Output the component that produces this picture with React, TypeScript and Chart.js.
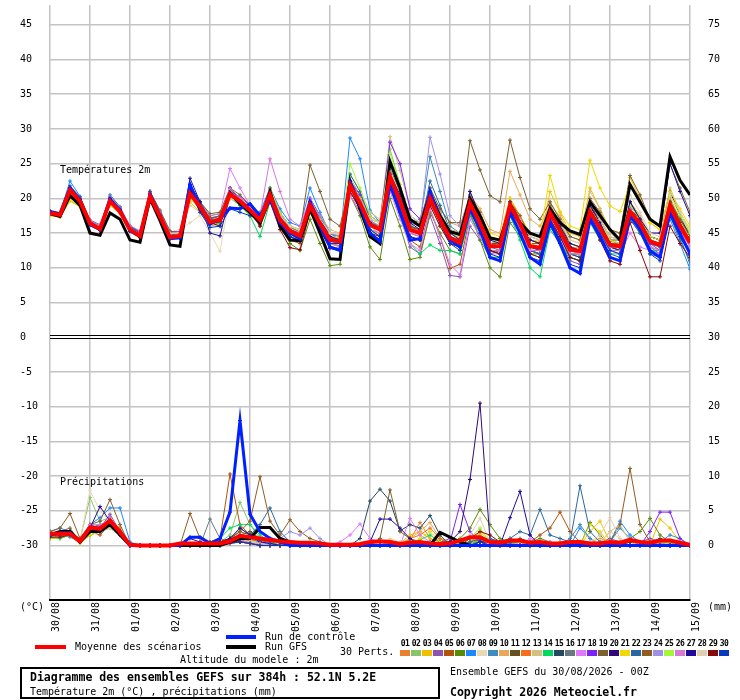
import React, { useEffect, useRef } from 'react';
import { Chart, registerables } from 'chart.js';
Chart.register(...registerables);

const DATES = ['30/08','31/08','01/09','02/09','03/09','04/09','05/09','06/09','07/09','08/09','09/09','10/09','11/09','12/09','13/09','14/09','15/09'];
const TEMP_TICKS = [45,40,35,30,25,20,15,10,5,0,-5,-10,-15,-20,-25,-30];
const PRECIP_TICKS = [75,70,65,60,55,50,45,40,35,30,25,20,15,10,5,0];

const MEAN_T = [17.9,17.6,21.2,19.6,16.4,15.6,19.6,18.1,15.5,14.6, 20.3,17.4,14.4,14.6,20.7,18.8,16.6,16.9,20.6,19.6, 18.3,16.9,20.5,16.9,15.3,14.6,19.0,16.4,14.0,13.8, 21.9,19.3,16.2,15.5,23.1,19.6,15.5,15.0,20.0,16.9, 14.3,13.6,19.3,16.4,13.1,13.1,19.0,16.4,13.1,12.9, 17.9,15.3,12.6,12.4,18.1,15.7,13.3,13.1,18.1,16.4, 13.8,13.3,19.0,16.0,13.6];
const GFS_T = [17.8,17.4,20.4,19.0,15.0,14.7,17.9,17.0,14.0,13.7, 20.0,16.8,13.3,13.1,21.5,18.5,16.5,16.8,20.8,19.2, 18.0,16.5,21.0,16.0,14.0,13.9,18.5,15.0,11.3,11.2, 22.5,18.5,14.5,13.5,25.3,21.5,17.0,16.0,20.5,17.5, 15.2,14.8,20.0,17.5,14.3,14.0,18.5,16.5,15.0,14.5, 18.5,16.5,15.3,14.8,19.5,17.5,15.5,14.0,22.0,19.5, 17.0,16.0,26.0,22.6,20.5];
const CTRL_T = [18.1,17.8,21.5,19.8,16.2,15.5,19.9,18.3,15.3,14.5, 20.6,17.5,14.2,14.3,22.0,18.6,16.3,17.0,18.6,18.5, 19.2,17.5,20.0,16.5,15.0,14.2,19.5,16.0,13.0,12.5, 22.3,19.0,15.0,13.8,22.0,18.0,14.0,14.2,21.0,17.0, 14.0,13.0,18.5,15.5,11.5,11.0,18.0,15.0,11.5,10.5, 16.5,13.5,10.0,9.2,17.0,14.5,11.5,11.0,17.5,15.5, 12.5,11.5,18.0,15.0,12.0];

const P01_T = [17.9,17.5,21.4,19.8,16.6,15.8,19.8,18.3,15.6,14.8, 20.5,17.7,14.6,14.9,21.0,19.2,17.0,17.5,21.2,20.0, 18.6,17.3,21.0,17.5,15.8,15.2,19.6,17.2,14.8,14.5, 22.5,20.0,16.8,16.0,24.0,20.5,16.0,15.5,21.0,17.8, 15.0,14.2,20.3,17.0,13.5,13.8,20.0,17.5,14.0,13.5, 18.8,16.0,13.0,12.8,19.0,16.5,13.8,13.5,19.0,17.0, 14.0,13.5,19.5,16.5,14.0];
const P02_T = [18.0,17.8,21.0,19.5,16.5,15.9,19.3,18.6,15.8,14.9, 20.0,17.2,14.6,14.9,20.2,18.5,17.0,17.6,20.0,19.0, 17.5,16.6,20.8,17.8,15.5,14.3,18.5,16.5,13.5,13.2, 23.0,20.5,16.0,14.8,27.1,22.0,16.5,14.8,19.0,16.0, 13.5,13.0,18.0,15.5,12.5,12.0,17.5,15.0,12.0,11.5, 17.0,14.5,12.0,11.8,17.5,15.0,13.0,12.8,18.5,16.5, 14.0,13.5,20.0,17.0,14.5];
const P03_T = [17.6,17.3,19.6,18.8,16.8,16.0,19.0,18.0,15.2,14.2, 20.0,17.4,14.8,15.2,19.5,18.0,16.0,16.3,20.0,19.5, 18.6,17.2,19.5,16.5,15.0,14.5,19.0,16.8,14.5,14.3, 21.0,18.5,16.0,15.5,22.5,19.0,15.5,15.5,20.5,17.5, 15.5,15.0,21.0,17.5,14.5,14.0,20.0,17.0,14.0,13.8, 21.0,18.0,15.0,14.5,21.5,18.5,15.5,15.0,23.0,20.0, 16.5,15.5,21.0,18.0,15.5];
const P04_T = [18.0,17.7,21.3,19.9,16.9,16.2,20.0,18.5,16.0,15.2, 21.0,18.0,15.0,14.8,20.5,18.5,16.5,16.8,21.5,20.0, 18.0,16.5,21.5,17.0,14.5,13.8,19.5,16.0,13.0,12.5, 20.5,18.0,14.5,13.5,21.5,17.5,13.0,12.0,17.5,13.5, 8.9,8.7,16.0,14.0,11.5,11.5,18.5,15.5,12.5,12.0, 17.0,14.0,11.0,10.5,16.5,14.5,12.5,12.5,17.5,15.5, 13.0,12.0,18.0,15.0,12.5];
const P05_T = [17.8,17.6,21.0,19.4,16.2,15.4,19.5,18.0,15.4,14.5, 20.2,17.2,14.3,14.4,20.5,18.9,16.8,17.2,20.8,19.8, 18.5,16.0,19.8,16.0,14.0,13.5,18.0,15.5,13.0,12.8, 21.5,19.0,15.5,14.5,22.5,18.5,14.0,13.0,18.5,14.5, 9.9,10.5,17.5,15.0,12.0,12.5,19.5,17.0,13.5,13.5, 18.0,16.0,13.0,12.5,18.5,16.0,13.0,12.5,17.0,15.0, 12.5,12.0,18.5,15.5,13.0];
const P06_T = [17.9,17.6,21.0,19.5,16.3,15.5,19.4,18.0,15.5,14.6, 20.0,17.5,14.8,15.0,20.5,19.5,17.5,17.8,20.5,19.0, 17.8,16.2,20.0,16.0,13.5,12.5,17.0,13.5,10.3,10.5, 20.5,17.5,13.0,11.2,20.0,16.0,11.2,11.5,18.0,15.0, 12.5,12.0,18.0,14.0,10.0,8.7,16.5,14.5,12.0,12.0, 17.0,14.5,12.0,12.0,17.5,15.0,12.5,12.5,19.0,17.0, 14.5,14.0,20.0,16.5,14.0];
const P07_T = [18.2,17.9,22.5,20.3,16.8,16.0,20.0,18.6,15.8,14.8, 20.8,17.8,14.5,14.3,21.5,19.0,17.0,17.5,20.5,19.5, 18.5,18.0,21.5,18.5,16.5,16.0,21.5,18.0,15.0,14.0, 28.7,25.7,18.3,16.5,23.5,20.0,15.0,14.5,20.5,17.0, 13.5,13.0,19.5,16.0,12.5,12.0,19.0,16.0,12.5,12.0, 17.5,15.0,12.0,11.5,18.0,15.0,12.5,12.0,17.5,15.5, 12.5,12.0,17.0,13.5,9.8];
const P08_T = [17.5,17.4,20.5,19.0,16.5,15.8,19.0,17.8,15.8,15.0, 19.5,17.0,15.2,15.5,16.5,17.5,15.0,12.4,20.5,19.5, 18.0,17.0,20.0,17.0,15.5,15.0,19.0,17.0,15.0,14.5, 21.0,19.5,17.0,16.5,24.0,21.0,17.0,16.0,20.0,17.5, 15.0,14.5,20.5,18.0,14.5,14.0,19.5,17.0,14.0,13.5, 18.0,16.0,13.5,13.0,18.5,16.0,13.5,13.5,19.0,17.0, 14.0,13.5,18.5,15.5,13.0];
const P09_T = [17.9,17.7,21.5,19.9,16.5,15.7,19.8,18.2,15.6,14.7, 20.4,17.5,14.5,14.8,20.8,19.0,16.8,17.0,20.8,19.8, 18.5,17.2,20.5,17.0,15.5,14.8,19.5,17.5,15.0,14.5, 22.5,20.0,17.0,16.5,24.5,21.5,17.5,16.5,26.0,21.0, 16.0,15.0,20.0,16.5,13.0,12.5,18.5,16.0,13.0,12.5, 17.0,14.5,11.5,11.0,18.5,16.0,13.0,12.5,18.0,16.0, 13.0,12.5,18.0,14.5,10.5];
const P10_T = [17.8,17.5,21.0,19.5,16.5,15.7,19.7,18.2,15.5,14.6, 20.3,17.6,14.5,14.7,20.5,18.8,16.7,17.0,20.5,19.5, 18.3,17.0,20.5,17.0,15.3,14.8,19.3,16.7,14.2,14.0, 22.0,19.5,16.5,15.8,23.5,20.5,16.5,16.0,21.0,18.5, 16.5,16.0,20.5,18.5,15.5,15.0,23.9,20.5,17.0,16.0, 19.0,17.5,14.5,14.0,19.5,17.0,14.0,13.5,19.5,17.5, 14.5,14.0,20.0,17.0,14.0];
const P11_T = [17.9,17.6,21.3,19.7,16.4,15.5,19.5,18.0,15.3,14.4, 20.2,17.3,14.3,14.5,20.6,18.6,16.5,16.8,20.6,19.7, 18.4,17.0,20.8,17.3,15.5,14.8,19.2,16.5,14.0,13.7, 21.5,19.0,16.0,15.5,23.5,20.0,16.0,15.5,20.5,17.5, 15.0,14.5,19.5,16.5,13.5,13.5,19.5,17.0,14.0,13.5, 18.5,16.0,13.5,13.0,18.0,16.0,14.0,14.0,18.5,17.0, 14.5,14.0,19.5,17.0,15.0];
const P12_T = [18.0,17.7,21.2,19.6,16.5,15.7,19.8,18.3,15.6,14.6, 20.2,17.4,14.5,14.6,20.5,18.3,16.2,16.5,20.5,19.2, 17.8,16.8,20.0,16.5,15.0,14.3,18.5,15.8,13.5,13.2, 21.0,18.5,15.5,15.0,22.5,19.0,15.0,14.5,19.5,16.5, 14.0,13.5,19.0,16.0,13.0,13.0,18.5,16.0,12.5,12.5, 17.5,15.0,12.5,12.0,18.0,15.5,13.0,13.0,18.0,16.0, 13.5,13.0,19.0,16.0,13.5];
const P13_T = [17.7,17.5,21.0,19.5,16.5,15.9,19.5,18.0,15.6,14.8, 20.0,17.5,14.8,15.0,20.3,18.5,16.8,17.0,20.3,19.5, 18.5,17.5,20.5,17.5,16.0,15.5,19.5,17.5,15.5,15.0, 23.5,21.0,18.0,17.0,28.9,24.0,18.5,17.0,21.5,18.0, 15.0,14.5,20.0,17.0,14.0,13.5,19.0,16.5,13.5,13.0, 19.5,17.0,14.0,13.5,21.0,18.5,15.0,14.0,19.5,17.5, 14.5,14.0,21.5,18.0,15.0];
const P14_T = [17.9,17.6,21.0,19.4,16.3,15.5,19.5,18.0,15.4,14.5, 20.0,17.2,14.2,14.4,20.5,18.5,16.3,16.5,20.3,19.0, 17.5,14.5,19.5,16.0,14.5,13.8,18.5,16.0,13.5,13.0, 21.0,18.5,15.5,14.5,22.0,17.5,13.5,12.0,13.3,12.5, 12.5,12.0,17.5,14.5,11.5,11.5,17.5,14.0,10.0,8.7, 15.5,13.5,11.5,11.0,16.5,14.0,12.0,12.0,17.0,15.0, 12.5,12.5,18.0,15.0,12.5];
const P15_T = [18.0,17.7,21.6,20.0,16.7,15.9,20.2,18.5,15.7,14.8, 20.6,17.6,14.5,14.6,21.0,19.0,16.8,17.0,21.0,20.0, 18.5,17.0,21.0,17.5,15.5,15.0,19.5,17.0,14.5,14.0, 22.5,19.5,16.5,15.5,23.0,19.5,15.5,15.0,20.5,17.5, 14.5,14.0,20.0,17.0,13.5,13.0,19.0,16.0,12.5,12.0, 17.0,14.5,12.0,11.5,17.5,15.0,12.5,12.5,18.0,16.0, 13.5,13.0,19.5,16.5,14.0];
const P16_T = [17.8,17.6,21.1,19.6,16.4,15.6,19.6,18.1,15.5,14.6, 20.3,17.4,14.4,14.6,20.7,18.8,16.6,16.8,20.2,19.3, 18.0,16.8,20.0,16.5,15.0,14.5,18.8,16.0,13.8,13.5, 21.5,19.0,16.0,15.5,22.0,19.0,15.5,15.0,19.5,16.5, 14.5,14.0,19.0,16.0,13.0,13.0,18.5,16.0,13.0,13.0, 17.5,15.5,13.0,12.5,17.5,15.5,13.5,13.5,17.5,16.0, 14.0,13.5,18.5,16.0,14.0];
const P17_T = [17.9,17.6,21.2,19.7,16.6,15.8,19.8,18.4,15.8,14.9, 20.5,17.7,14.8,15.0,21.0,19.5,17.5,17.8,24.3,21.5, 19.0,17.5,21.0,17.5,15.5,14.6,18.5,15.5,13.5,13.0, 20.5,18.0,15.0,14.0,21.0,17.0,13.5,12.5,18.5,14.5, 10.5,9.0,17.0,14.5,12.0,12.0,18.0,15.5,12.5,12.5, 17.5,15.0,12.5,12.0,18.0,15.0,12.5,12.0,15.0,13.0, 12.5,12.0,18.5,15.5,13.0];
const P18_T = [18.0,17.7,21.4,19.8,16.7,16.0,20.0,18.5,16.0,15.2, 20.8,18.0,15.2,15.2,20.8,19.2,17.2,17.4,21.0,20.2, 19.0,17.5,21.5,18.0,16.0,15.5,20.0,17.5,15.0,14.5, 22.5,20.5,17.5,16.5,28.1,25.0,18.5,17.0,21.0,17.0, 14.0,13.5,19.5,16.5,13.5,13.0,18.5,15.5,12.5,12.5, 18.0,15.5,12.5,12.5,19.0,16.5,13.5,13.0,18.5,16.5, 13.5,12.5,17.5,14.5,12.0];
const P19_T = [17.9,17.6,21.3,19.8,16.7,15.9,19.9,18.4,15.9,15.0, 21.0,18.3,15.3,15.0,21.0,19.5,17.8,18.0,21.5,20.5, 19.0,17.5,20.5,17.0,15.5,15.0,24.8,21.0,17.0,16.0, 22.0,19.5,16.5,16.0,24.5,21.0,17.0,16.5,21.5,18.5, 16.5,16.5,28.3,24.1,20.4,19.5,28.4,23.0,18.5,17.0, 19.5,17.0,14.5,14.0,20.0,18.0,15.5,15.0,23.3,20.5, 17.0,16.0,24.9,21.5,18.0];
const P20_T = [17.8,17.5,21.0,19.5,16.3,15.4,19.4,17.9,15.3,14.4, 20.1,17.2,14.2,14.3,22.0,19.5,16.5,16.0,21.5,19.8, 18.0,16.5,20.0,16.3,14.5,13.8,18.5,15.5,12.8,12.5, 21.0,18.5,15.0,14.0,22.5,18.5,14.5,14.0,19.5,16.5, 13.5,13.0,19.5,16.5,12.5,12.0,19.5,16.5,13.0,12.5, 18.5,16.0,13.0,12.5,19.0,16.0,13.0,12.5,19.5,17.0, 14.5,14.0,21.0,17.5,14.5];
const P21_T = [17.5,17.3,19.8,18.8,16.5,16.0,19.0,17.8,15.5,14.8, 19.8,17.2,14.8,15.0,20.0,18.5,16.5,16.8,20.0,19.5, 18.5,17.5,20.3,17.5,16.0,15.5,19.5,17.5,15.0,14.8, 22.0,20.0,17.0,16.5,23.5,20.5,16.5,16.0,20.5,18.0, 15.5,15.0,20.0,17.5,15.0,14.5,20.0,17.5,15.0,14.5, 23.3,18.1,16.0,15.5,25.5,21.5,18.9,18.1,22.0,19.5, 16.5,15.5,21.0,18.5,16.0];
const P22_T = [18.1,17.8,21.8,20.2,16.8,15.9,20.5,18.8,15.9,15.0, 21.0,18.0,14.8,14.8,21.5,19.5,17.0,17.0,20.5,19.5, 18.0,16.8,21.0,17.5,15.0,14.5,20.0,17.5,14.5,14.0, 23.5,21.0,17.0,15.5,24.5,21.0,16.0,15.5,22.5,19.0, 15.5,14.5,20.0,17.0,13.5,13.0,18.0,15.5,12.5,12.0, 17.0,14.5,11.5,11.0,17.0,14.5,12.0,11.5,17.0,15.0, 12.0,11.5,17.5,14.0,11.0];
const P23_T = [17.8,17.5,21.0,19.5,16.4,15.6,19.6,18.2,15.7,14.8, 20.3,17.6,14.7,14.8,20.5,19.0,17.2,17.4,20.3,19.3, 18.5,17.5,20.5,17.2,15.8,15.2,19.2,16.8,14.3,14.0, 21.5,19.0,16.3,15.8,22.5,19.5,15.8,15.5,20.0,17.5, 15.5,15.0,20.5,18.0,14.5,14.0,19.5,17.5,14.5,14.0, 19.0,16.5,13.5,13.0,19.0,17.0,14.5,14.0,19.0,17.0, 14.5,14.0,19.5,17.0,14.5];
const P24_T = [18.0,17.7,21.4,19.9,16.8,16.1,20.3,18.6,16.1,15.3, 20.8,18.0,15.0,15.0,20.9,19.0,16.8,17.0,21.0,20.0, 18.8,17.2,21.3,17.8,15.8,15.0,19.8,17.5,15.0,14.5, 22.0,19.8,16.8,16.0,23.0,20.0,16.5,16.0,28.8,23.5, 17.5,16.0,20.5,17.0,13.5,13.0,18.5,15.5,12.5,12.5, 17.5,15.0,12.5,12.0,18.0,15.5,13.0,13.0,18.5,16.5, 14.0,13.5,19.0,16.0,13.5];
const P25_T = [17.9,17.6,21.2,19.6,16.5,15.7,19.7,18.2,15.6,14.7, 20.4,17.5,14.5,14.7,20.8,18.9,16.8,17.0,20.8,19.7, 18.3,17.0,21.5,18.0,16.0,15.3,19.5,17.0,14.5,14.3, 25.0,21.5,17.5,16.5,26.5,22.0,17.0,16.0,21.0,18.0, 15.0,14.5,20.0,17.5,14.0,13.5,19.5,17.0,13.5,13.0, 18.5,16.0,13.5,13.0,18.5,16.5,14.0,13.5,19.0,17.0, 14.5,14.0,20.5,17.5,15.0];
const P26_T = [17.9,17.6,21.3,19.7,16.6,15.8,19.9,18.3,15.7,14.8, 20.5,17.6,14.6,14.8,21.0,19.0,16.7,16.9,21.5,20.0, 18.5,17.5,25.7,21.0,17.0,16.0,20.0,17.0,14.5,14.0, 21.0,18.5,15.5,15.0,22.5,19.0,15.0,14.5,19.5,16.5, 13.5,13.0,18.5,15.5,12.5,12.5,18.0,15.5,12.5,12.5, 17.0,14.5,12.0,12.0,17.5,15.0,12.5,12.5,17.5,15.5, 13.0,12.5,18.5,15.5,13.0];
const P27_T = [18.0,17.7,21.5,19.9,16.6,15.8,20.0,18.4,15.6,14.7, 20.6,17.6,14.4,14.4,22.9,19.5,15.0,14.6,20.5,19.5, 18.0,16.5,20.5,17.0,15.0,14.5,19.5,17.0,14.5,14.0, 22.0,19.5,16.5,15.5,23.5,20.5,16.5,15.5,21.0,18.0, 15.0,14.0,21.0,17.5,14.0,13.5,19.5,17.0,14.0,13.5, 18.5,16.0,13.5,13.0,19.0,16.5,13.5,13.0,19.5,17.0, 15.0,15.0,25.0,21.0,17.5];
const P28_T = [17.6,17.4,20.8,19.3,16.6,15.9,19.3,18.0,15.6,14.9, 19.8,17.3,14.9,15.1,19.0,18.0,16.0,16.8,20.0,19.5, 18.5,17.3,20.0,17.5,16.0,15.5,19.0,17.0,15.0,14.8, 21.5,19.5,17.0,16.5,24.5,21.5,17.5,16.5,20.5,18.0, 15.5,15.0,20.0,17.5,14.5,14.0,19.0,17.0,14.5,14.0, 18.5,16.5,14.0,13.5,19.5,17.0,14.5,14.0,20.5,18.0, 15.0,14.5,20.5,18.0,15.5];
const P29_T = [17.8,17.5,21.0,19.5,16.3,15.4,19.5,18.0,15.3,14.4, 20.2,17.3,14.3,14.5,20.6,18.7,16.5,16.8,20.5,19.5, 18.0,16.0,19.5,15.5,12.9,12.6,18.0,15.5,13.0,12.5, 21.0,18.5,15.0,14.5,22.5,18.5,14.5,14.0,19.0,16.0, 13.5,13.0,18.5,15.5,12.5,12.0,18.0,15.0,12.0,11.5, 17.0,14.5,11.5,11.0,17.0,14.0,11.0,10.5,16.5,12.5, 8.7,8.7,16.0,13.5,11.5];
const P30_T = [18.1,17.8,21.3,19.7,16.4,15.5,19.7,18.2,15.4,14.5, 20.5,17.4,14.3,14.3,21.0,18.0,15.8,16.0,18.5,18.0, 17.5,17.2,19.5,16.5,14.5,14.0,19.0,16.0,13.5,13.5, 22.0,19.0,15.5,14.5,22.5,18.5,14.5,14.0,20.0,16.5, 13.5,12.5,18.5,15.0,12.0,11.5,18.0,15.0,11.5,11.0, 17.0,14.0,10.5,10.0,17.5,15.0,12.5,12.0,18.0,15.5, 12.0,11.0,17.5,14.5,12.0];

const MEAN_P = [1.7,1.7,1.7,0.6,2.6,2.4,3.6,1.9,0.1,0, 0,0,0,0.3,0.3,0.3,0.3,0.3,0.6,1.4, 1.2,1.0,0.8,0.6,0.5,0.4,0.4,0.3,0.1,0.1, 0.1,0.2,0.5,0.6,0.5,0.2,0.4,0.5,0.3,0.2, 0.3,0.7,1.2,1.2,0.5,0.4,0.7,0.7,0.4,0.5, 0.3,0.3,0.5,0.5,0.3,0.3,0.5,0.4,0.8,0.5, 0.4,0.7,0.7,0.4,0.1];
const GFS_P = [1.5,2.0,2.0,0.5,2.0,2.0,3.0,1.5,0,0, 0,0,0,0,0,0,0,0,0.5,1.0, 1.0,2.6,2.6,1.0,0.5,0,0,0,0,0, 0,0,0,0,0,0,0,0,0,1.9, 1.2,0.5,0,0,0,0,0,0,0,0, 0,0,0,0,0,0,0,0,0,0, 0,0,0,0,0];
const CTRL_P = [1.5,1.8,1.8,0.5,2.5,2.5,3.5,2.0,0,0, 0,0,0,0,1.2,1.2,0.3,1.0,4.8,18.0, 4.5,2.0,1.0,0.5,0,0,0,0,0,0, 0,0,0,0,0,0,0,0,0,0, 0,0,0,0,0,0,0,0,0,0, 0,0,0,0,0,0,0,0,0,0, 0,0,0,0,0];

const P01_P = [1.5,1.8,2.0,0.5,2.5,2.0,3.0,1.5,0.2,0, 0,0,0,0,0,0,0.3,0.5,1.0,1.5, 1.0,0.5,0.3,0,0,0,0,0,0,0, 0,0,0.3,0.5,0.5,0.3,0.8,3.3,1.0,0.5, 0,0.3,0.5,1.5,0.5,0,0,0.5,0.3,0, 0,0.5,0.5,0,0,0.3,0.5,0.3,0,0, 0,0.3,0.5,0.3,0];
const P02_P = [1.8,1.5,1.5,0.8,6.9,3.5,4.0,2.0,0,0, 0,0,0,0,0,0,0,0.5,1.5,6.2, 3.0,1.0,0.5,0.3,0,0,0,0,0,0, 0,0,0,0,0.5,0,0,0,0,0.3, 0.5,0.3,1.0,0.5,0,0,0,0,0.5,0, 0,0,0,0.3,0,0,0,0,0,0, 0,0,0.3,0,0];
const P03_P = [1.2,1.0,1.5,0.3,1.5,2.0,3.5,2.5,0,0, 0,0,0,0,0,0,0,0,0.5,0.8, 0.5,0.3,0,0,0,0,0,0,0,0, 0,0,0,0.5,0.8,0.3,1.5,2.0,1.0,0.5, 0,0,0.5,2.0,0.5,0,0.3,0.8,0.3,0, 0,0,0,0,2.0,3.5,0.5,0,0,0, 0,3.8,2.5,0.5,0];
const P04_P = [2.0,1.5,1.8,0.5,2.0,2.5,4.5,2.0,0,0, 0,0,0,0,0,0,0,0.3,0.5,0.5, 0.8,0.5,0.3,0,0,0,0,0,0,0, 0,0,0,0,0,0,0,0,0,0.5, 1.0,0.5,0.3,0,0,0.5,1.0,0.5,0,0, 0,0,0,0,0,0.5,1.0,0.5,0,0.5, 1.0,0.5,0,0,0];
const P05_P = [1.5,2.0,1.5,0.5,2.0,1.5,3.0,2.0,0,0, 0,0,0,0,0,0,0.5,1.0,10.3,3.0, 1.5,0.5,0,0,0,0,0,0,0,0, 0,0,0,0,0,0,0.3,0.5,0.3,0, 0,0,0.5,0.8,0,0,0,0,0.5,1.5, 2.5,4.8,2.0,0.5,0,0,0,0,0,0, 0,0,0,0,0];
const P06_P = [1.0,1.2,1.5,0.5,1.5,2.0,2.5,1.5,0,0, 0,0,0,0,0,0.3,0.5,0.5,1.0,2.5, 1.5,0.8,0.3,0,0,0,0,0,0,0, 0,0,0,0,0,0,0,0,0.5,1.0, 0.5,1.0,2.5,5.2,3.0,1.0,0.5,0,0.5,1.0, 0.5,0,0,0,3.3,1.5,0,0,1.0,2.0, 3.9,1.5,0.5,0,0];
const P07_P = [2.0,2.5,2.0,0.5,3.0,4.0,5.4,5.4,0.5,0, 0,0,0,0,0,0,0,0,0.5,1.0, 0.5,0,0,0,0,0,0,0,0,0, 0,0,0,0,0.5,0.3,0,0,0,0, 0,0,0,0.5,0,0,0,0,0,0, 0,0,0,2.5,1.0,0,0.5,3.5,1.5,0.5, 0,0,0,0,0];
const P08_P = [1.5,1.8,2.0,0.8,7.9,5.0,3.5,2.5,0,0, 0,0,0,0,0,0,0,0,0.3,0.5, 0.3,0,0,0,0,0,0,0,0,0, 0,0,0,0.5,1.0,0.5,0,0,0,0, 0,0.5,1.0,2.5,0.5,0,0,0,0,0, 0,0,0,0,0,0,2.0,1.0,0,0, 0,0.5,1.0,0.5,0];
const P09_P = [1.8,1.5,1.2,0.5,2.5,3.0,3.0,1.5,0,0, 0,0,0,0,0,0,0,0.3,0.8,1.2, 1.0,0.5,0.3,0,0,0,0,0,0,0, 0,0,0,0,0,0,0,0,0,0, 0,0,0.3,0.5,0,0,0.3,0.5,0,0, 0,0,1.0,3.0,1.0,0,0.5,2.5,1.0,0, 0,0.5,1.5,1.0,0];
const P10_P = [1.5,1.5,1.5,0.5,2.5,2.0,3.5,1.5,0,0, 0,0,0,0,0,0,0,0,0.3,0.8, 0.5,0.3,0,0,0,0,0,0,0,0, 0,0,0.5,0.5,0,0.3,1.0,2.0,3.3,1.0, 0.5,0,0,0.5,0,0,0,0,0,0, 0,0,0,0,0.5,1.0,0.5,0,0,0, 0,0.5,0.3,0,0];
const P11_P = [1.8,2.0,2.0,1.0,3.0,2.5,4.0,2.0,0,0, 0,0,0,0,0,0,0,0.5,1.0,1.5, 2.0,1.0,0.5,0,0,0,0,0,0,0, 0,0,0,0,0,0,0,0,0.5,0.3, 0,0,0,0,0,0,0.5,1.0,0.5,0, 0,0,0,0,0,0,0,0,0,0, 0,0,0,0,0];
const P12_P = [1.5,1.2,1.5,0.5,2.0,2.5,3.5,2.5,0,0, 0,0,0,0,0,0,0.3,0.5,0.8,1.0, 0.5,0.3,0,0,0,0,0,0,0,0, 0,0,0,0,0,0,1.0,1.5,2.5,1.0, 0,0,0.5,0.5,0,0,0,0,0,0, 0,0,0,0,0,0,0,0.5,0.5,0, 0,0,0,0,0];
const P13_P = [1.5,1.5,1.8,0.5,2.0,2.0,3.0,2.0,0,0, 0,0,0,0,0,0,0,0,0.5,0.5, 0.3,0,0,0,0,0,0,0,0,0, 0,0,0,0,0.5,0.5,0,0,0,0, 0,0,0,0.5,0,0,0,0,0,0, 0,0,0,0,0.5,0.5,2.0,3.0,0.5,0, 0,0,0,0,0];
const P14_P = [1.2,1.0,1.5,0.5,2.0,2.5,3.0,1.5,0,0, 0,0,0,0,0,0,0.5,1.0,2.5,3.0, 3.0,1.5,0.5,0,0,0,0,0,0,0, 0,0,0,0,0,0,0.5,0.8,1.5,0.5, 0,0,0.5,0.5,0,0,0,0,0,0, 0,0,0,0,0,0,0,0,0,0, 0,0,0,0,0];
const P15_P = [1.5,1.8,1.5,0.5,2.5,2.0,3.5,2.0,0,0, 0,0,0,0,0,0,0,0.3,0.5,0.5, 0.5,0.3,0,0,0,0,0,0,0,0, 0,1.0,6.4,8.1,6.4,2.1,3.0,2.5,4.3,1.5, 0,0,0,0.5,1.0,0.5,0,0,0,0, 0,0,0,0,0,0,0,0,0,0, 0.5,1.0,0.5,0,0];
const P16_P = [1.5,1.5,2.0,0.8,2.5,3.0,3.5,2.0,0,0, 0,0,0,0,0,0,3.8,1.0,0.5,0.5, 0.5,0,0,0,0,0,0,0,0,0, 0,0,0,0,0,0,0,0,0,0, 0,0,0,0,0,0,0,0,0,0, 0,0,0,0,0,0,0,0,0,0, 0,0,0,0,0];
const P17_P = [1.8,2.0,1.5,0.5,2.5,2.5,4.0,1.5,0,0, 0,0,0,0,0,0,0,0,0.5,0.8, 0.5,0.3,0,0,0,0,0,0,0,0.5, 1.5,3.1,1.0,0.5,0,0,3.9,1.5,0.5,0, 0,0,0,0,0,0,0,0,1.0,0.5, 0.5,0,0,0,0,0,0,0,0,0, 0,0,0,0,0];
const P18_P = [1.5,1.5,1.8,0.5,2.5,2.0,3.5,1.5,0,0, 0,0,0,0,0,0,0,0,0.3,0.5, 0.3,0,0,0,0,0,0,0,0,0, 0,0,0,0,0,0,0,0,0,0, 0.5,5.9,2.0,0.5,0,0,0,0.5,0,0, 0,0,0,0,0,0,0,0,0,0, 2.0,4.8,4.8,1.0,0];
const P19_P = [1.5,2.0,2.5,0.5,3.0,3.5,6.6,3.0,0,0, 0,0,0,0,0,0,0,0.5,1.0,2.0, 1.5,0.8,0.3,0,0,0,0,0,0,0, 0,0,0,1.0,8.0,2.0,1.0,0.5,0,0, 0,0,0,0,0,0,0,0,0,0, 0,0,0,0,0,0,0,0,0,0, 0,0,0,0,0];
const P20_P = [1.2,1.5,1.5,0.5,2.0,2.0,3.0,1.5,0,0, 0,0,0,0,0,0,0,0,0.5,0.5, 0.3,0,0,0,0,0,0,0,0,0, 0,0,0,0,0,0,0,0,0,0.5, 0.5,2.0,9.5,20.5,0.7,0.5,0,0,0,0, 0,0,0,0,0,0,0,0,0,0, 0,0,0,0,0];
const P21_P = [1.0,1.2,1.5,0.3,1.5,2.0,3.0,2.0,0,0, 0,0,0,0,0,0,0,0,0.5,1.0, 0.8,0.3,0,0,0,0,0,0,0,0, 0,0,0,0,0,0,0,1.0,2.0,0.5, 0,0,0,1.5,0.5,0,0,0.5,0,0, 0,0,0,0,3.0,2.0,0,0,0,0, 0,0,0,0,0];
const P22_P = [1.5,1.5,1.5,0.5,2.5,2.5,3.5,2.0,0,0, 0,0,0,0,0,0,0,0.5,1.0,1.0, 1.5,3.0,5.4,2.0,0.5,0,0,0,0,0, 0,0,0,0,0,0,0,0,0,0, 0,0,0.5,1.0,1.0,0.5,1.0,2.0,1.5,5.2, 1.5,1.0,0.5,8.6,2.0,0.5,0,0,0,0, 0,0,0,0,0];
const P23_P = [2.0,2.5,4.6,1.0,2.5,2.0,3.0,2.0,0,0, 0,0,0,0,4.6,1.0,0.5,0.5,1.0,2.0, 3.5,9.9,3.5,1.5,3.7,2.0,1.0,0.5,0,0, 0,0,0,0,0,0,0,0,0,0, 0,0,0,0,0,0,0,0,0,0, 0,0,0,0,0,0,0.5,3.0,11.1,3.0, 0.5,0,0,0,0];
const P24_P = [1.5,1.5,1.8,0.5,2.0,2.5,3.0,1.5,0,0, 0,0,0,0,0,0,0,0,0.5,0.5, 0.3,0.3,0.5,1.0,2.0,1.5,2.5,1.0,0,0, 0,0,0,0,0,0,0,0,0,0, 0,0,0,0,0,0,0,0,0,0, 0,0,0,0,0,0,0,0,0,0, 0,0,0,0,0];
const P25_P = [1.2,1.5,1.5,0.5,2.0,2.0,3.0,1.5,0,0, 0,0,0,0,0,0,0,0,0.3,0.5, 0.3,0,0,0,0,0,0,0,0,0, 0,0,0,0,0,0,0,0,0,0, 0,0.5,1.0,2.5,0.5,0,0,0,0,0, 0,0,0,0,0,0,0,0,0,0, 0,0,0.5,0,0];
const P26_P = [1.8,1.5,1.5,0.5,3.0,3.0,3.5,2.0,0,0, 0,0,0,0,0,0,0,0,0.5,0.8, 0.5,0.3,0,0,0,0,0,0,0,0, 0,0,0,0,0,0,0,0,0,0, 0,0,0,0,0,0,0,0,0,0, 0,0,0,0,0,0,0,0,0,0, 0,0,0,0,0];
const P27_P = [1.5,1.8,2.0,0.5,2.5,5.6,3.5,2.0,0,0, 0,0,0,0,1.0,0.5,0,0.5,1.0,2.5, 1.5,0.5,0.3,0,0,0,0,0,0,0, 0,0,0.5,3.8,3.8,2.5,1.0,0,0,0, 0,0,0,0.5,0.5,0,4.0,7.8,1.5,0, 0,0,0,0,0,0,0,0,0,0, 0,0,0,0,0];
const P28_P = [1.5,1.5,1.5,0.5,2.0,2.0,2.5,1.5,0,0, 0,0,0,0,0,0,0,0,0.5,1.0, 0.5,0.3,0,0,0,0,0,0,0,0, 0,0,0,0,0,0,0,0,0,0, 0,0.5,1.5,3.9,0.5,0,0,0,0,0, 0,0,0,0,0.5,1.5,4.0,1.0,0,0, 0,0,0,0,0];
const P29_P = [1.2,1.2,1.5,0.5,2.0,2.0,3.0,1.5,0,0, 0,0,0,0,0,0,0.3,0.5,0.5,0.5, 0.3,0,0,0,0,0,0,0,0,0, 0,0,0,0,0,0,0,0,0,0, 0,0,1.0,2.0,1.5,0.5,0,0,0,0, 0,0,0,0,0,0,0,0,0.5,0.5, 0,0,0,0,0];
const P30_P = [1.5,1.5,1.5,0.5,2.5,2.5,3.5,2.0,0,0, 0,0,0,0,0,0,0,0,0.3,0.5, 0.3,0,0,0,0,0,0,0,0,0, 0,0,0,0,0,0,0,0,0,0, 0,0,0,0.5,0,0,0,0,0,0, 0,0,0,0,0,0,0,0,0,0, 0,0,0,0,0];

const PERT_COLORS = ['#e8802f','#88c46c','#f0c000','#8c54ac','#b0520c','#5a8a08','#1c88ff','#e8d8b4','#3c8cc0','#e8a858','#645020','#f86c1c','#d4c080','#00d860','#244860','#687880','#e078f8','#8020f8','#7c6030','#300878','#f0d800','#2868a0','#905c20','#a090e8','#a0f838','#d878d8','#200c98','#e0d0b0','#880808','#0838c0'];
const PERT_LABELS = ['01','02','03','04','05','06','07','08','09','10','11','12','13','14','15','16','17','18','19','20','21','22','23','24','25','26','27','28','29','30'];

const PERT_T = [P01_T,P02_T,P03_T,P04_T,P05_T,P06_T,P07_T,P08_T,P09_T,P10_T,P11_T,P12_T,P13_T,P14_T,P15_T,P16_T,P17_T,P18_T,P19_T,P20_T,P21_T,P22_T,P23_T,P24_T,P25_T,P26_T,P27_T,P28_T,P29_T,P30_T];
const PERT_P = [P01_P,P02_P,P03_P,P04_P,P05_P,P06_P,P07_P,P08_P,P09_P,P10_P,P11_P,P12_P,P13_P,P14_P,P15_P,P16_P,P17_P,P18_P,P19_P,P20_P,P21_P,P22_P,P23_P,P24_P,P25_P,P26_P,P27_P,P28_P,P29_P,P30_P];

const STEPS_PER_DAY = 4;
const T_MIN = -30 - 55 / 7;
const T_MAX = 45 + 20 / 7;
const PRECIP_SHIFT = 30;
const FONT = '"DejaVu Sans Mono", monospace';

const toXY = (arr: number[]) => arr.map((v, i) => ({ x: i, y: v }));

const zeroLine = {
  id: 'zeroLine',
  beforeDatasetsDraw(chart: any) {
    const { ctx, chartArea: a, scales } = chart;
    const y0 = Math.round(scales.y.getPixelForValue(0));
    ctx.save();
    ctx.strokeStyle = '#000';
    ctx.lineWidth = 1;
    [-1.5, 1.5].forEach((d) => {
      ctx.beginPath();
      ctx.moveTo(a.left, y0 + d);
      ctx.lineTo(a.right, y0 + d);
      ctx.stroke();
    });
    ctx.restore();
  },
};

function lineDs(label: string, data: number[], color: string, width: number, axis: string, order: number, pts: boolean) {
  return {
    label,
    data: toXY(data),
    borderColor: color,
    backgroundColor: color,
    borderWidth: width,
    pointStyle: 'cross',
    pointRadius: pts ? 2 : 0,
    pointBorderWidth: 1,
    pointBorderColor: color,
    fill: false,
    tension: 0,
    yAxisID: axis,
    order,
  };
}

const txt = (extra: any): any => ({
  position: 'absolute',
  fontFamily: FONT,
  fontSize: 10,
  lineHeight: '12px',
  color: '#000',
  whiteSpace: 'nowrap',
  ...extra,
});

const noPadV = (w: number) => (s: any) => { s.width = w; s.paddingTop = 0; s.paddingBottom = 0; };

export default function App() {
  const ref = useRef<HTMLCanvasElement | null>(null);

  useEffect(() => {
    if (!ref.current) return;
    Chart.defaults.font.family = FONT;
    Chart.defaults.font.size = 10;
    Chart.defaults.color = '#000';

    const datasets: any[] = [];
    datasets.push(lineDs('Moyenne T', MEAN_T, '#ff0000', 4, 'y', 0, false));
    datasets.push(lineDs('Moyenne P', MEAN_P, '#ff0000', 4, 'y2', 0, false));
    datasets.push(lineDs('Contrôle T', CTRL_T, '#0020ff', 3, 'y', 1, true));
    datasets.push(lineDs('Contrôle P', CTRL_P, '#0020ff', 3, 'y2', 1, true));
    datasets.push(lineDs('GFS T', GFS_T, '#000000', 3, 'y', 2, false));
    datasets.push(lineDs('GFS P', GFS_P, '#000000', 3, 'y2', 2, false));
    PERT_T.forEach((arr, k) => datasets.push(lineDs('P' + PERT_LABELS[k] + ' T', arr, PERT_COLORS[k], 1, 'y', 3 + (29 - k), true)));
    PERT_P.forEach((arr, k) => datasets.push(lineDs('P' + PERT_LABELS[k] + ' P', arr, PERT_COLORS[k], 1, 'y2', 3 + (29 - k), true)));

    const grid = '#c4c4c4';
    const chart = new Chart(ref.current, {
      type: 'line',
      data: { datasets },
      options: {
        animation: false,
        responsive: false,
        devicePixelRatio: 1,
        layout: { padding: { left: 20, right: 0, top: 0, bottom: 0 } },
        plugins: { legend: { display: false }, tooltip: { enabled: false } },
        scales: {
          x: {
            type: 'linear',
            position: 'bottom',
            min: 0,
            max: (DATES.length - 1) * STEPS_PER_DAY,
            afterBuildTicks: (s: any) => { s.ticks = DATES.map((_, i) => ({ value: i * STEPS_PER_DAY })); },
            afterFit: (s: any) => { s.height = 100; s.paddingLeft = 0; s.paddingRight = 0; },
            ticks: {
              autoSkip: false,
              maxRotation: 90,
              minRotation: 90,
              padding: 2,
              labelOffset: 6,
              font: { family: FONT, size: 10 },
              color: '#000',
              callback: (v: any) => DATES[Math.round(Number(v) / STEPS_PER_DAY)] ?? '',
            },
            grid: { color: grid, lineWidth: 1.5, drawTicks: false },
            border: { display: true, color: '#000', width: 2 },
          },
          y: {
            type: 'linear',
            position: 'left',
            min: T_MIN,
            max: T_MAX,
            afterBuildTicks: (s: any) => { s.ticks = TEMP_TICKS.map((v) => ({ value: v })); },
            afterFit: noPadV(30),
            ticks: {
              crossAlign: 'far',
              padding: 0,
              font: { family: FONT, size: 10 },
              color: '#000',
              callback: (v: any) => String(v),
            },
            grid: {
              color: (c: any) => (c.tick && c.tick.value === 0 ? 'rgba(0,0,0,0)' : grid),
              lineWidth: 1.5,
              drawTicks: false,
            },
            border: { display: false },
          },
          y2: {
            type: 'linear',
            position: 'right',
            min: T_MIN + PRECIP_SHIFT,
            max: T_MAX + PRECIP_SHIFT,
            afterBuildTicks: (s: any) => { s.ticks = PRECIP_TICKS.map((v) => ({ value: v })); },
            afterFit: noPadV(50),
            ticks: {
              padding: 18,
              font: { family: FONT, size: 10 },
              color: '#000',
              callback: (v: any) => String(v),
            },
            grid: { drawOnChartArea: false, drawTicks: false },
            border: { display: false },
          },
        },
      } as any,
      plugins: [zeroLine],
    });
    return () => chart.destroy();
  }, []);

  return (
    <div style={{ position: 'fixed', left: 0, top: 0, width: 740, height: 700, background: '#fff' }}>
      <canvas ref={ref} width={740} height={700} style={{ position: 'absolute', left: 0, top: 0, width: 740, height: 700 }} />
      <div style={txt({ left: 60, top: 164 })}>Températures 2m</div>
      <div style={txt({ left: 60, top: 476 })}>Précipitations</div>
      <div style={txt({ left: 20, top: 601 })}>(°C)</div>
      <div style={txt({ left: 708, top: 601 })}>(mm)</div>

      <div style={{ position: 'absolute', left: 35, top: 645, width: 31, height: 4, background: '#ff0000' }} />
      <div style={txt({ left: 75, top: 641 })}>Moyenne des scénarios</div>
      <div style={{ position: 'absolute', left: 226, top: 635, width: 30, height: 4, background: '#0020ff' }} />
      <div style={txt({ left: 265, top: 631 })}>Run de contrôle</div>
      <div style={{ position: 'absolute', left: 226, top: 645, width: 30, height: 4, background: '#000' }} />
      <div style={txt({ left: 265, top: 641 })}>Run GFS</div>
      <div style={txt({ left: 180, top: 654 })}>Altitude du modele : 2m</div>
      <div style={txt({ left: 340, top: 646 })}>30 Perts.</div>

      {PERT_LABELS.map((lab, k) => (
        <React.Fragment key={lab}>
          <div style={txt({ left: 400 + 11 * k - 1, top: 639, width: 12, textAlign: 'center', fontSize: 8, lineHeight: '10px', fontWeight: 'bold', letterSpacing: -0.5 })}>{lab}</div>
          <div style={{ position: 'absolute', left: 400 + 11 * k, top: 650, width: 10, height: 6, background: PERT_COLORS[k] }} />
        </React.Fragment>
      ))}

      <div style={{ position: 'absolute', left: 20, top: 667, width: 416, height: 28, border: '2px solid #000' }} />
      <div style={txt({ left: 30, top: 670, fontSize: 11.5, lineHeight: '14px', fontWeight: 'bold' })}>Diagramme des ensembles GEFS sur 384h : 52.1N 5.2E</div>
      <div style={txt({ left: 30, top: 686 })}>Température 2m (°C) , précipitations (mm)</div>
      <div style={txt({ left: 450, top: 666 })}>Ensemble GEFS du 30/08/2026 - 00Z</div>
      <div style={txt({ left: 450, top: 685, fontSize: 11.5, lineHeight: '14px', fontWeight: 'bold' })}>Copyright 2026 Meteociel.fr</div>
    </div>
  );
}
